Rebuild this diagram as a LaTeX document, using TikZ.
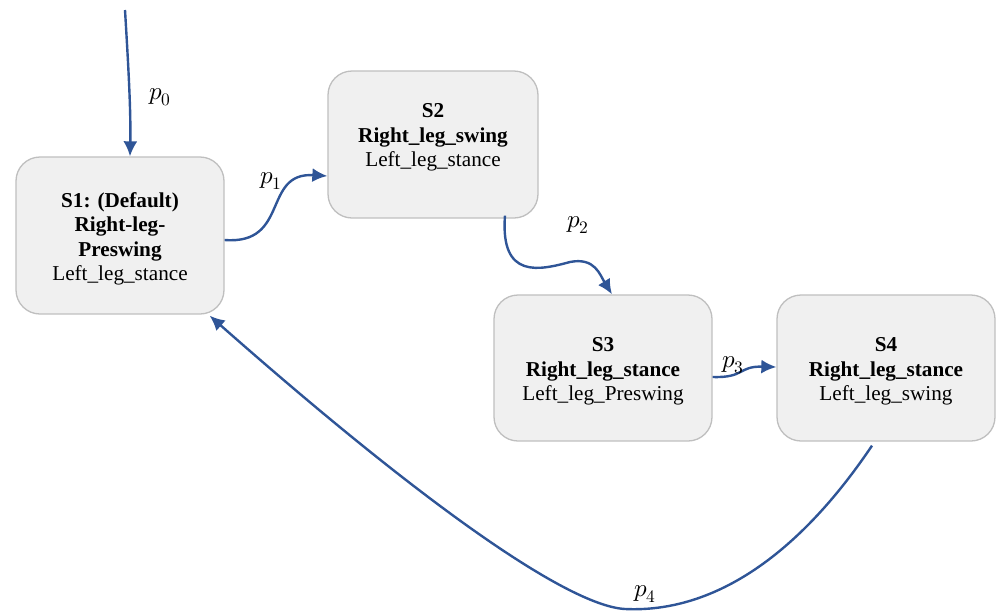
\documentclass[tikz,border=0pt]{standalone}
\usepackage{fontspec}
\usepackage{unicode-math}
\setmainfont{Liberation Serif}
\setmathfont{Latin Modern Math}
\usetikzlibrary{arrows.meta}
\definecolor{arrowblue}{HTML}{2F5597}
\definecolor{boxfill}{HTML}{F0F0F0}
\definecolor{boxline}{HTML}{BFBFBF}
\begin{document}
\begin{tikzpicture}[x=1pt,y=-1pt,
  statebox/.style={draw=boxline,fill=boxfill,line width=1.3pt,rounded corners=24pt,
    align=center,inner sep=0pt,font=\fontsize{21.2}{24.5}\selectfont},
  trans/.style={draw=arrowblue,line width=2.4pt,-{Latex[length=15pt,width=14pt]}},
  plabel/.style={font=\fontsize{25}{28}\selectfont}]
\useasboundingbox (0,0) rectangle (997,611);
\node[statebox,minimum width=208pt,minimum height=157pt] (s1) at (120,235.5)
  {\rule{0pt}{22pt}\textbf{S1: (Default)}\\\textbf{Right-leg-}\\\textbf{Preswing}\\Left\_leg\_stance};
\node[statebox,minimum width=210pt,minimum height=147pt] (s2) at (433,144.5)
  {\textbf{S2}\\\textbf{Right\_leg\_swing}\\Left\_leg\_stance\\[-6pt]\mbox{}};
\node[statebox,minimum width=218pt,minimum height=146pt] (s3) at (603,368)
  {\rule{0pt}{21pt}\textbf{S3}\\\textbf{Right\_leg\_stance}\\Left\_leg\_Preswing};
\node[statebox,minimum width=218pt,minimum height=146pt] (s4) at (886,368)
  {\rule{0pt}{21pt}\textbf{S4}\\\textbf{Right\_leg\_stance}\\Left\_leg\_swing};
\coordinate (start) at (125,10);
% p0
\draw[trans] (start) .. controls (128,60) and (131,110) .. ([xshift=10pt]s1.north);
\node[plabel] (l0) at (160,97) {$p_0$};
% p1
\draw[trans] ([yshift=-4.5pt]s1.east) .. controls (290,245) and (262,172) .. ([yshift=-31.5pt]s2.west);
\node[plabel] (l1) at (271,181) {$p_1$};
% p2
\draw[trans] ([xshift=72pt,yshift=3pt]s2.south) .. controls (500,280) and (540,270) .. (570,262)
  .. controls (595,257) and (600,275) .. ([xshift=9pt]s3.north);
\node[plabel] (l2) at (578,225) {$p_2$};
% p3
\draw[trans] ([yshift=-9pt]s3.east) .. controls (745,378) and (738,366) .. ([yshift=1pt]s4.west);
\node[plabel] (l3) at (733,365) {$p_3$};
% p4
\draw[trans] ([xshift=-14pt,yshift=-4pt]s4.south) .. controls (795,560) and (710,613) .. (625,609)
  .. controls (570,606) and (430,510) .. ([xshift=-15pt,yshift=-1pt]s1.south east);
\node[plabel] (l4) at (645,594) {$p_4$};
\end{tikzpicture}
\end{document}
